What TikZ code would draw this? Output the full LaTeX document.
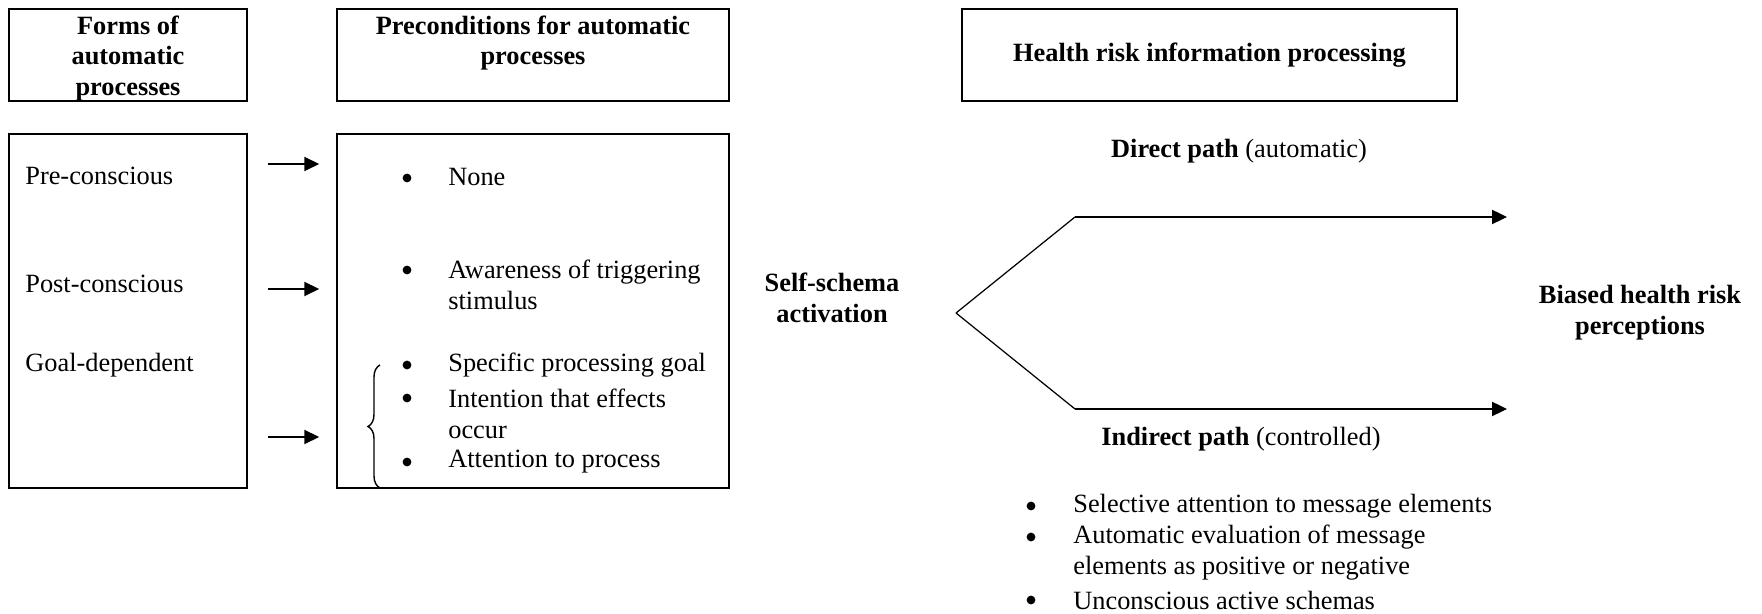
\documentclass[tikz,border=0pt]{standalone}
\usepackage{fontspec}
\setmainfont{Liberation Serif}
\usetikzlibrary{arrows.meta}
\usetikzlibrary{positioning}
\usetikzlibrary{decorations.pathreplacing}

\begin{document}
\begin{tikzpicture}[
        >={Triangle[length=8.5pt,width=8pt]},
        every node/.style={font=\fontsize{15}{17.6}\selectfont},
        headbox/.style={rectangle,draw,line width=1pt,minimum height=1.84cm},
        listbox/.style={rectangle,draw,line width=0.9pt,minimum height=7.08cm},
        headtext/.style={align=center,font=\fontsize{15}{17.6}\selectfont\bfseries,inner sep=0pt},
        lbl/.style={anchor=west,align=left,inner sep=0pt},
        dot/.style={circle,fill,inner sep=0pt,minimum size=5pt}
    ]
        \useasboundingbox (0,0) rectangle (35.24,-12.28);

        % headers
        \node at (2.56,-1.10) [headbox,minimum width=4.76cm] (formsHead) {};
        \node at (10.66,-1.10) [headbox,minimum width=7.84cm] (precHead) {};
        \node at (24.19,-1.10) [headbox,headtext,minimum width=9.90cm] (healthHead) {Health risk information processing};
        \node [headtext,below=0.14cm of formsHead.north] (formsTitle) {Forms of\\automatic\\processes};
        \node [headtext,below=0.14cm of precHead.north] (precTitle) {Preconditions for automatic\\processes};

        % left part
        \node at (2.56,-6.22) [listbox,minimum width=4.76cm] (formsBox) {};
        \node at (10.66,-6.22) [listbox,minimum width=7.84cm] (precBox) {};

        \node at (0.50,-3.52) [lbl] (preCon) {Pre-conscious};
        \node at (0.50,-5.68) [lbl] (postCon) {Post-conscious};
        \node at (0.50,-7.30) [lbl] (goalDep) {Goal-dependent};

        \node at (8.14,-3.56) [dot] (p1) {};
        \node at (8.96,-3.54) [lbl] (none) {None};
        \node at (8.14,-5.40) [dot] (p2) {};
        \node at (8.96,-5.70) [lbl] (aware) {Awareness of triggering\\stimulus};
        \node at (8.14,-7.30) [dot] (p3) {};
        \node at (8.96,-7.30) [lbl] (goal) {Specific processing goal};
        \node at (8.14,-7.96) [dot] (p4) {};
        \node at (8.96,-8.28) [lbl] (intent) {Intention that effects\\occur};
        \node at (8.14,-9.24) [dot] (p5) {};
        \node at (8.96,-9.24) [lbl] (attend) {Attention to process};

        \draw[->,line width=1.1pt,shorten <=0.40cm,shorten >=0.34cm] (formsBox.east |- 0,-3.28) -- (precBox.west |- 0,-3.28);
        \draw[->,line width=1.1pt,shorten <=0.40cm,shorten >=0.34cm] (formsBox.east |- 0,-5.78) -- (precBox.west |- 0,-5.78);
        \draw[->,line width=1.1pt,shorten <=0.40cm,shorten >=0.34cm] (formsBox.east |- 0,-8.74) -- (precBox.west |- 0,-8.74);

        \draw[decorate,decoration={brace,amplitude=0.24cm},line width=0.8pt] (7.60,-9.76) -- (7.60,-7.30);

        % right part
        \node at (16.64,-5.96) [headtext] (selfSchema) {Self-schema\\activation};
        \node at (32.80,-6.26) [headtext] (biased) {Biased health risk\\perceptions};

        \coordinate (fork) at (19.12,-6.26);
        \coordinate (upTurn) at (21.50,-4.34);
        \coordinate (upEnd) at (30.14,-4.34);
        \coordinate (lowTurn) at (21.50,-8.18);
        \coordinate (lowEnd) at (30.14,-8.18);

        \draw[line width=0.7pt] (fork) -- (upTurn);
        \draw[line width=0.7pt] (fork) -- (lowTurn);
        \draw[->,line width=1.1pt] (upTurn) -- (upEnd);
        \draw[->,line width=1.1pt] (lowTurn) -- (lowEnd);

        \node at (24.78,-3.02) (directLbl) {\textbf{Direct path} (automatic)};
        \node at (24.82,-8.78) (indirectLbl) {\textbf{Indirect path} (controlled)};

        \node at (20.62,-10.12) [dot] (s1) {};
        \node at (21.46,-10.12) [lbl] (selAtt) {Selective attention to message elements};
        \node at (20.62,-10.74) [dot] (s2) {};
        \node at (21.46,-11.05) [lbl] (autoEval) {Automatic evaluation of message\\elements as positive or negative};
        \node at (20.62,-12.00) [dot] (s3) {};
        \node at (21.46,-12.00) [lbl] (unconsc) {Unconscious active schemas};
\end{tikzpicture}
\end{document}
